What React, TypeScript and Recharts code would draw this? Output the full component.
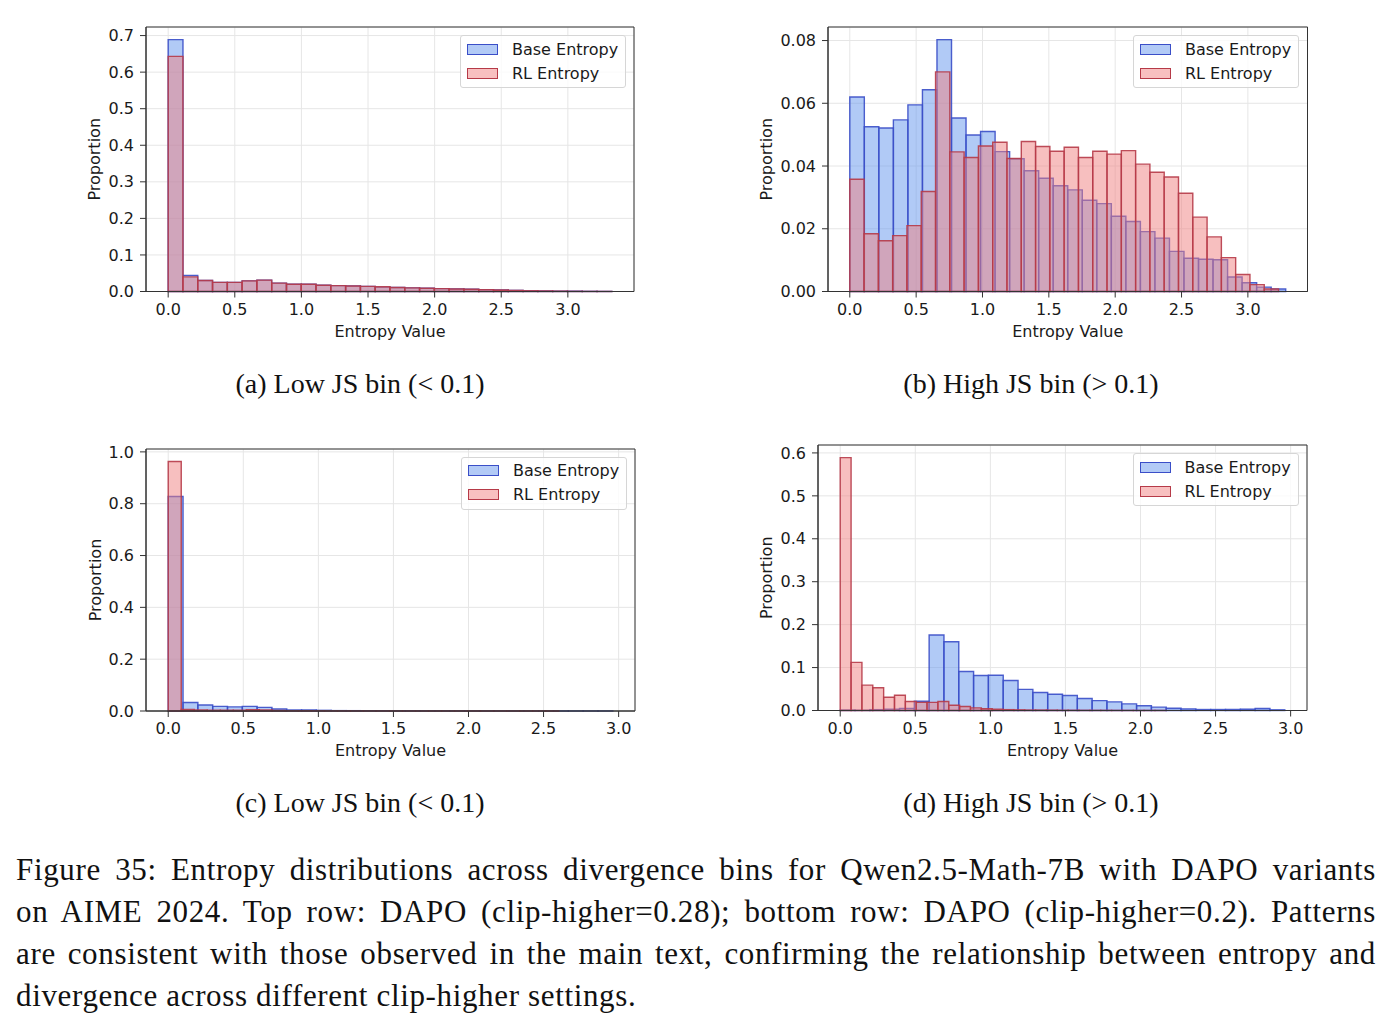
import React from 'react';
import { ComposedChart, XAxis, YAxis, CartesianGrid, ReferenceArea } from 'recharts';

// Shared x ticks (entropy value)
const X_TICKS = [0, 0.5, 1.0, 1.5, 2.0, 2.5, 3.0];

// (a) Low JS bin, clip-higher=0.28 — 30 bins each
const aBaseBinWidth = 0.111;
const aRlBinWidth = 0.111;
const aBase = [0.689, 0.044, 0.030, 0.025, 0.025, 0.029, 0.031, 0.023, 0.020, 0.020, 0.017, 0.016, 0.015, 0.014, 0.012, 0.011, 0.010, 0.009, 0.008, 0.007, 0.006, 0.005, 0.004, 0.003, 0.002, 0.0015, 0.001, 0.001, 0.0005, 0.0003];
const aRl = [0.643, 0.040, 0.030, 0.025, 0.025, 0.029, 0.031, 0.023, 0.020, 0.020, 0.017, 0.016, 0.015, 0.014, 0.013, 0.011, 0.010, 0.009, 0.008, 0.007, 0.006, 0.005, 0.004, 0.003, 0.002, 0.0015, 0.001, 0.0005, 0.0003, 0.0002];
const aYTicks = [0, 0.1, 0.2, 0.3, 0.4, 0.5, 0.6, 0.7];

// (b) High JS bin, clip-higher=0.28
const bBaseBinWidth = 0.1095;
const bRlBinWidth = 0.1077;
const bBase = [0.0620, 0.0525, 0.0521, 0.0547, 0.0595, 0.0643, 0.0803, 0.0553, 0.0499, 0.0510, 0.0446, 0.0423, 0.0385, 0.0361, 0.0337, 0.0324, 0.0291, 0.0280, 0.0240, 0.0223, 0.0191, 0.0170, 0.0128, 0.0106, 0.0103, 0.0101, 0.0046, 0.0028, 0.0014, 0.0008];
const bRl = [0.0358, 0.0184, 0.0162, 0.0178, 0.0210, 0.0319, 0.0700, 0.0445, 0.0427, 0.0464, 0.0476, 0.0424, 0.0478, 0.0462, 0.0447, 0.0460, 0.0427, 0.0447, 0.0438, 0.0449, 0.0406, 0.0380, 0.0365, 0.0313, 0.0237, 0.0174, 0.0108, 0.0054, 0.0022, 0.0008];
const bYTicks = [0, 0.02, 0.04, 0.06, 0.08];

// (c) Low JS bin, clip-higher=0.2
const cBaseBinWidth = 0.0987;
const cRlBinWidth = 0.0867;
const cBase = [0.828, 0.033, 0.023, 0.018, 0.016, 0.018, 0.014, 0.008, 0.004, 0.004, 0.0026, 0.0015, 0.0013, 0.001, 0.0008, 0.0006, 0.0005, 0.0004, 0.0004, 0.0003, 0.0003, 0.0002, 0.0002, 0.0002, 0.0001, 0.0001, 0.0001, 0.0001, 0.0001, 0.0001];
const cRl = [0.963, 0.006, 0.004, 0.003, 0.003, 0.003, 0.005, 0.004, 0.002, 0.001, 0.001, 0.0008, 0.0005, 0.0004, 0.0003, 0.0003, 0.0002, 0.0002, 0.0001, 0.0001, 0.0001, 0.0001, 0.0001, 0.0001, 0.0001, 0.0001, 0.0001, 0.0001, 0.0001, 0.0001];
const cYTicks = [0, 0.2, 0.4, 0.6, 0.8, 1.0];

// (d) High JS bin, clip-higher=0.2
const dBaseBinWidth = 0.0987;
const dRlBinWidth = 0.0723;
const dBase = [0.001, 0.0005, 0.002, 0.003, 0.005, 0.0216, 0.176, 0.160, 0.0907, 0.0814, 0.0822, 0.070, 0.0492, 0.042, 0.038, 0.035, 0.028, 0.023, 0.020, 0.0155, 0.011, 0.0078, 0.0054, 0.0039, 0.0023, 0.0023, 0.0023, 0.0031, 0.0047, 0.0016];
const dRl = [0.589, 0.112, 0.059, 0.053, 0.031, 0.0356, 0.021, 0.019, 0.019, 0.021, 0.0123, 0.0093, 0.006, 0.004, 0.003, 0.002, 0.0015, 0.001, 0.001, 0.0008, 0.0005, 0.0005, 0.0004, 0.0003, 0.0003, 0.0002, 0.0002, 0.0001, 0.0001, 0.0001];
const dYTicks = [0, 0.1, 0.2, 0.3, 0.4, 0.5, 0.6];

const SERIES_NAMES = ['Base Entropy', 'RL Entropy'];
const SUBCAPTIONS = ['(a) Low JS bin (< 0.1)', '(b) High JS bin (> 0.1)', '(c) Low JS bin (< 0.1)', '(d) High JS bin (> 0.1)'];
const CAPTION_LINES = [
  'Figure 35: Entropy distributions across divergence bins for Qwen2.5-Math-7B with DAPO variants',
  'on AIME 2024. Top row: DAPO (clip-higher=0.28); bottom row: DAPO (clip-higher=0.2). Patterns',
  'are consistent with those observed in the main text, confirming the relationship between entropy and',
  'divergence across different clip-higher settings.',
];

const STYLES = [
  { fill: '#6495ED', stroke: '#3a4ec8' },
  { fill: '#F08080', stroke: '#b63a48' },
];

const SANS = '"DejaVu Sans", Verdana, sans-serif';
const SERIF = '"Liberation Serif", "Times New Roman", serif';

type Hist = { binWidth: number; values: number[] };
type Spec = {
  plot: { left: number; top: number; right: number; bottom: number };
  yTicks: number[];
  yDigits: number;
  yLabelX: number;
  hists: Hist[];
};

const SPECS: Spec[] = [
  { plot: { left: 146, top: 27, right: 634, bottom: 291.5 }, yTicks: aYTicks, yDigits: 1, yLabelX: 94,
    hists: [{ binWidth: aBaseBinWidth, values: aBase }, { binWidth: aRlBinWidth, values: aRl }] },
  { plot: { left: 827.5, top: 27, right: 1307, bottom: 291.5 }, yTicks: bYTicks, yDigits: 2, yLabelX: 766,
    hists: [{ binWidth: bBaseBinWidth, values: bBase }, { binWidth: bRlBinWidth, values: bRl }] },
  { plot: { left: 146, top: 448.5, right: 635, bottom: 710.5 }, yTicks: cYTicks, yDigits: 1, yLabelX: 95,
    hists: [{ binWidth: cBaseBinWidth, values: cBase }, { binWidth: cRlBinWidth, values: cRl }] },
  { plot: { left: 817.5, top: 445, right: 1306.5, bottom: 710.5 }, yTicks: dYTicks, yDigits: 1, yLabelX: 766,
    hists: [{ binWidth: dBaseBinWidth, values: dBase }, { binWidth: dRlBinWidth, values: dRl }] },
];

const ML = 40;
const YW = 60;
const MT = 20;
const MR = 20;
const MB = 50;
const XH = 30;

function LegendBox({ left, top }: { left: number; top: number }) {
  return (
    <div
      style={{
        position: 'absolute', left, top, width: 164, height: 51,
        border: '1px solid #d6d6d6', borderRadius: 3, background: 'rgba(255,255,255,0.8)',
        fontFamily: SANS, fontSize: 16, color: '#1a1a1a',
      }}
    >
      {SERIES_NAMES.map((name, i) => (
        <div key={name} style={{ position: 'absolute', left: 6, top: 4 + i * 24, height: 18, display: 'flex', alignItems: 'center' }}>
          <div
            style={{
              width: 31, height: 11, boxSizing: 'border-box',
              background: i === 0 ? '#b2caf6' : '#f8c0c0',
              border: `1.5px solid ${STYLES[i].stroke}`,
            }}
          />
          <span style={{ marginLeft: 14, whiteSpace: 'nowrap' }}>{name}</span>
        </div>
      ))}
    </div>
  );
}

function Panel({ spec }: { spec: Spec }) {
  const { plot, yTicks, yDigits, yLabelX, hists } = spec;
  const xMax = Math.max(...hists.map((h) => h.binWidth * h.values.length));
  const xPad = xMax * 0.05;
  const yTop = Math.max(...hists.flatMap((h) => h.values)) * 1.05;
  const width = plot.right - plot.left + ML + YW + MR;
  const height = plot.bottom - plot.top + MT + MB + XH;
  const left = plot.left - ML - YW;
  const top = plot.top - MT;
  const tickStyle = { fontFamily: SANS, fontSize: 16, fill: '#1a1a1a' };

  return (
    <>
      <div style={{ position: 'absolute', left, top, width, height }}>
        <ComposedChart width={width} height={height} margin={{ top: MT, right: MR, bottom: MB, left: ML }}>
          <CartesianGrid stroke="#e6e6e6" strokeWidth={1} />
          <XAxis
            type="number"
            dataKey="x"
            domain={[-xPad, xMax + xPad]}
            ticks={X_TICKS}
            allowDataOverflow
            interval={0}
            tickFormatter={(v: number) => v.toFixed(1)}
            height={XH}
            tickSize={6}
            tickMargin={6}
            tick={tickStyle}
            axisLine={{ stroke: '#333' }}
            tickLine={{ stroke: '#333' }}
            label={{ value: 'Entropy Value', position: 'bottom', offset: 4, style: { fontFamily: SANS, fontSize: 16, fill: '#1a1a1a' } }}
          />
          <YAxis
            type="number"
            domain={[0, yTop]}
            ticks={yTicks}
            allowDataOverflow
            interval={0}
            tickFormatter={(v: number) => v.toFixed(yDigits)}
            width={YW}
            tickSize={6}
            tickMargin={6}
            tick={tickStyle}
            axisLine={{ stroke: '#333' }}
            tickLine={{ stroke: '#333' }}
            label={{
              value: 'Proportion', angle: -90, position: 'insideLeft', offset: yLabelX - (plot.left - YW),
              style: { fontFamily: SANS, fontSize: 16, fill: '#1a1a1a', textAnchor: 'middle' },
            }}
          />
          {hists.map((h, s) =>
            h.values.map((v, i) => (
              <ReferenceArea
                key={`${s}-${i}`}
                x1={i * h.binWidth}
                x2={(i + 1) * h.binWidth}
                y1={0}
                y2={v}
                fill={STYLES[s].fill}
                fillOpacity={0.5}
                stroke={STYLES[s].stroke}
                strokeOpacity={0.9}
                strokeWidth={1.4}
                ifOverflow="visible"
              />
            ))
          )}
          <ReferenceArea
            x1={-xPad}
            x2={xMax + xPad}
            y1={0}
            y2={yTop}
            fill="none"
            fillOpacity={0}
            stroke="#333"
            strokeWidth={1}
            ifOverflow="visible"
          />
        </ComposedChart>
      </div>
      <LegendBox left={plot.right - 8 - 166} top={plot.top + 8} />
    </>
  );
}

export default function App() {
  const subPos = [
    { x: 360, y: 384 },
    { x: 1031, y: 384 },
    { x: 360, y: 803 },
    { x: 1031, y: 803 },
  ];
  return (
    <div style={{ position: 'absolute', left: 0, top: 0, width: 1392, height: 1029, background: '#fff', overflow: 'hidden' }}>
      {SPECS.map((s, i) => (
        <Panel key={i} spec={s} />
      ))}
      {SUBCAPTIONS.map((t, i) => (
        <div
          key={t + i}
          style={{
            position: 'absolute', left: subPos[i].x - 250, top: subPos[i].y - 17, width: 500,
            textAlign: 'center', fontFamily: SERIF, fontSize: 28, lineHeight: '34px', color: '#111', whiteSpace: 'pre',
          }}
        >
          {t}
        </div>
      ))}
      {CAPTION_LINES.map((line, i) => {
        const last = i === CAPTION_LINES.length - 1;
        return (
          <div
            key={i}
            style={{
              position: 'absolute', left: 16, top: 849 + i * 42, width: 1360, height: 42,
              fontFamily: SERIF, fontSize: 31, lineHeight: '42px', color: '#111', letterSpacing: '0.65px',
              textAlign: last ? 'left' : 'justify', textAlignLast: last ? 'left' : 'justify',
              whiteSpace: 'nowrap', overflow: 'visible',
            }}
          >
            {line}
          </div>
        );
      })}
    </div>
  );
}
